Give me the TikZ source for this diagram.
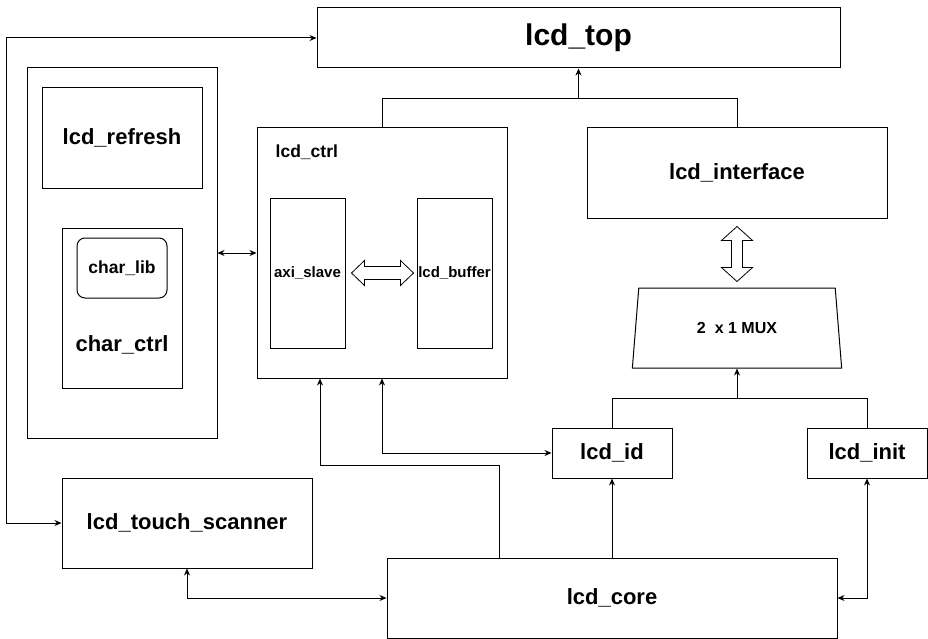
\documentclass[tikz,border=0pt]{standalone}
\usepackage{fontspec}
\setmainfont{Liberation Sans}
\usepackage{tikz}
\usetikzlibrary{shapes.geometric,arrows.meta,positioning,calc}

\begin{document}
\begin{tikzpicture}[
    x=1pt, y=-1pt,
    block/.style={rectangle, draw, line width=1pt, inner sep=0pt, align=center, font=\fontsize{22}{26}\selectfont\bfseries},
    subblock/.style={block, font=\fontsize{15}{18}\selectfont\bfseries},
    lbl/.style={inner sep=0pt, font=\fontsize{22}{26}\selectfont\bfseries},
    fatarrow/.style={draw, line width=0.8pt, fill=white},
    arrow/.style={-{Stealth[length=7pt,width=6pt]}, line width=1pt},
    biarrow/.style={{Stealth[length=7pt,width=6pt]}-{Stealth[length=7pt,width=6pt]}, line width=1pt},
    line/.style={line width=1pt}
]
\useasboundingbox (0,0) rectangle (928,639);

% Top level
\node[block, minimum width=523, minimum height=60, font=\fontsize{30}{34}\selectfont\bfseries] (top) at (578.5,38) {lcd\_top};

% Left column - refresh and character blocks
\node[block, minimum width=190, minimum height=370] (disp) at (122,253) {};
\node[block, minimum width=160, minimum height=100] (refresh) at (122,138) {lcd\_refresh};
\node[block, minimum width=120, minimum height=160] (charctrl) at (122,308) {};
\node[block, rounded corners=8pt, minimum width=90, minimum height=60, font=\fontsize{17.5}{20}\selectfont\bfseries] (charlib) at (122,268) {char\_lib};
\node[lbl] (charctrltxt) at ($(charctrl.south)+(0,-44)$) {char\_ctrl};

% Controller with slave and buffer
\node[block, minimum width=250, minimum height=250] (ctrl) at (382,253) {};
\node[lbl, anchor=west, font=\fontsize{17.5}{20}\selectfont\bfseries] (ctrltxt) at ($(ctrl.north west)+(19,25)$) {lcd\_ctrl};
\node[subblock, minimum width=75, minimum height=150] (axi) at (307.5,273) {axi\_slave};
\node[subblock, minimum width=75, minimum height=150] (buf) at (454.5,273) {lcd\_buffer};

% Right column - interface and mux
\node[block, minimum width=300, minimum height=90] (intf) at (737,173) {lcd\_interface};
\node[trapezium, draw, line width=1pt, trapezium stretches=true, trapezium left angle=77, trapezium right angle=77,
      minimum width=210, minimum height=80, inner sep=0pt, font=\fontsize{16}{19}\selectfont\bfseries] (mux) at (737,328) {2\ \ x 1 MUX};
\node[block, minimum width=120, minimum height=50] (id) at (612,453) {lcd\_id};
\node[block, minimum width=120, minimum height=50] (init) at (867,453) {lcd\_init};

% Bottom row
\node[block, minimum width=250, minimum height=90] (touch) at (187,523) {lcd\_touch\_scanner};
\node[block, minimum width=450, minimum height=80] (core) at (612,598) {lcd\_core};

% Block arrows (bus links)
\draw[fatarrow] ($(axi.east)+(6,0)$) -- ++(13,-12.5) -- ++(0,6) -- ++(36,0) -- ++(0,-6) -- ++(13,12.5)
    -- ++(-13,12.5) -- ++(0,-6) -- ++(-36,0) -- ++(0,6) -- cycle;
\draw[fatarrow] ($(intf.south)+(0,8)$) -- ++(15.5,14) -- ++(-10,0) -- ++(0,27) -- ++(10,0) -- ++(-15.5,14)
    -- ++(-15.5,-14) -- ++(10,0) -- ++(0,-27) -- ++(-10,0) -- cycle;

% Connections to lcd_top
\coordinate (topjoin) at ($(top.south)+(0,30)$);
\draw[line] (ctrl.north) |- (topjoin) -| (intf.north);
\draw[arrow] (topjoin) -- (top.south);
\draw[biarrow] (top.west) -- ++(-310,0) |- (touch.west);
\draw[biarrow] (disp.east) -- (ctrl.west);

% Connections to the mux
\coordinate (muxjoin) at ($(mux.south)+(0,30)$);
\draw[line] (id.north) |- (muxjoin) -| (init.north);
\draw[arrow] (muxjoin) -- (mux.south);

% Connections from lcd_core
\draw[arrow] ([xshift=-113]core.north) -- ++(0,-92) -| ([xshift=-62]ctrl.south);
\draw[biarrow] (id.west) -| (ctrl.south);
\draw[arrow] (core.north) -- (id.south);
\draw[biarrow] (core.east) -| (init.south);
\draw[biarrow] (touch.south) |- (core.west);

\end{tikzpicture}
\end{document}
